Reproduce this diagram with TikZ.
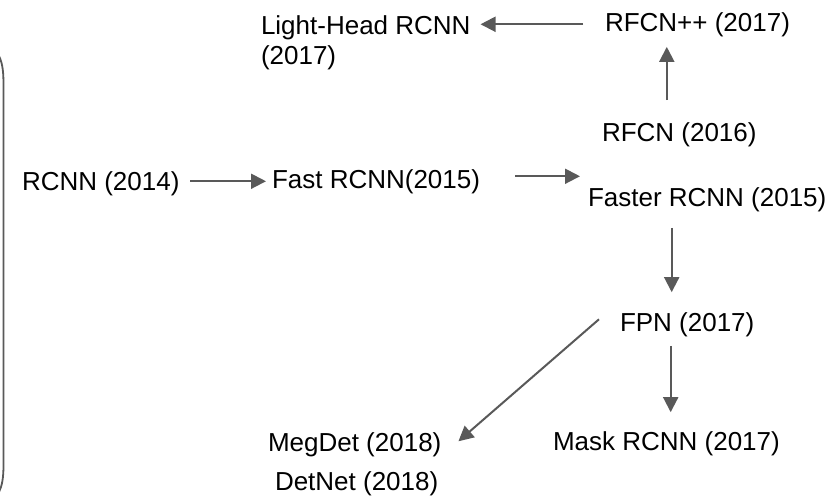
\documentclass[tikz,border=0pt]{standalone}
\usepackage{fontspec}
\setmainfont{Liberation Sans}
\usetikzlibrary{arrows.meta,calc}

\definecolor{linegray}{HTML}{595959}

\tikzset{
  model/.style={anchor=base west, inner sep=0pt, outer sep=0pt,
    font=\fontsize{26}{30}\selectfont, text=black},
  arr/.style={draw=linegray, line width=2pt,
    -{Triangle[length=15pt,width=15pt]}},
  brace/.style={draw=linegray, line width=1.8pt}
}

\begin{document}
\begin{tikzpicture}[x=1pt,y=-1pt]
  \useasboundingbox (0,0) rectangle (833,503);

  % curved edge of the enclosing frame on the left
  \draw[brace] (-1,56) .. controls (3,64) and (3.5,74) .. (3.5,86)
    -- (3.5,465) .. controls (3.5,478) and (2,486) .. (-1,492);

  % models (a two-line node sits on the baseline of its last line)
  \node[model] (rcnn)   at (22,190)  {RCNN (2014)};
  \node[model] (fast)   at (272,188) {Fast RCNN(2015)};
  \node[model] (faster) at (588,206) {Faster RCNN (2015)};
  \node[model] (rfcn)   at (602,141) {RFCN (2016)};
  \node[model] (rfcnpp) at (605,32)  {RFCN++ (2017)};
  \node[model, align=left] (light) at (261,65) {Light-Head RCNN\\(2017)};
  \node[model] (fpn)    at (620,331) {FPN (2017)};
  \node[model] (mask)   at (553,450) {Mask RCNN (2017)};
  \node[model] (megdet) at (268,451) {MegDet (2018)};
  \node[model] (detnet) at (275,490) {DetNet (2018)};

  % connectors
  \draw[arr] ($(rcnn.east)+(11,-2)$) -- ($(fast.west)+(-6,0)$);
  \draw[arr] ($(fast.east)+(35,-5)$) -- ($(fast.east -| faster.west)+(-8,-5)$);
  \draw[arr] ($(rfcn.north)+(-12.5,-22)$) -- ($(rfcn.north |- rfcnpp.south)+(-12.5,9.5)$);
  \draw[arr] ($(rfcnpp.west)+(-22,-1)$) -- ($(light.east |- rfcnpp.west)+(10,-1)$);
  \draw[arr] ($(faster.south)+(-35.5,16.5)$) -- ($(faster.south |- fpn.north)+(-35.5,-20)$);
  \draw[arr] ($(fpn.south)+(-16.5,9.5)$) -- ($(fpn.south |- mask.north)+(-16.5,-19)$);
  \draw[arr] ($(fpn.west)+(-21,-5)$) -- ($(megdet.east)+(17,-3)$);
\end{tikzpicture}
\end{document}
